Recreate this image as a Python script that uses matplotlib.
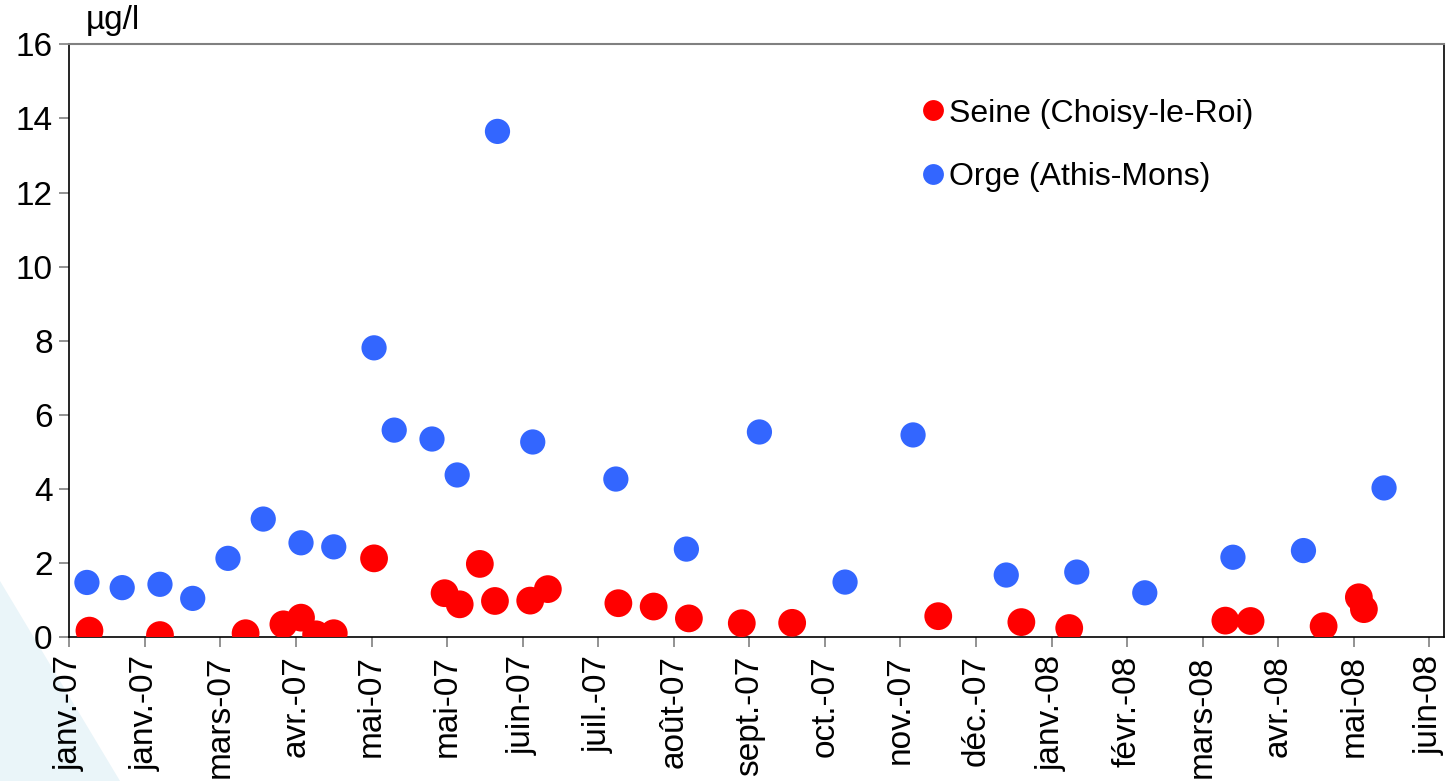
import datetime as dt

import matplotlib
matplotlib.use("Agg")
import matplotlib.pyplot as plt
import matplotlib.dates as mdates
from matplotlib.patches import Polygon
from matplotlib.lines import Line2D

plt.rcParams['font.family'] = ['Liberation Sans', 'DejaVu Sans']

# Seine (Choisy-le-Roi)
seine_dates = ['2007-01-09', '2007-02-06', '2007-03-12', '2007-03-27', '2007-04-03',
               '2007-04-09', '2007-04-16', '2007-05-02', '2007-05-30', '2007-06-05',
               '2007-06-13', '2007-06-19', '2007-07-03', '2007-07-10', '2007-08-07',
               '2007-08-21', '2007-09-04', '2007-09-25', '2007-10-15', '2007-12-12',
               '2008-01-14', '2008-02-02', '2008-04-04', '2008-04-14', '2008-05-13',
               '2008-05-27', '2008-05-29']
seine_values = [0.18, 0.06, 0.11, 0.35, 0.53, 0.08, 0.11, 2.13, 1.19, 0.89,
                1.98, 0.98, 0.99, 1.30, 0.92, 0.83, 0.51, 0.38, 0.39, 0.57,
                0.41, 0.25, 0.45, 0.44, 0.30, 1.08, 0.76]

# Orge (Athis-Mons)
orge_dates = ['2007-01-08', '2007-01-22', '2007-02-06', '2007-02-19', '2007-03-05',
              '2007-03-19', '2007-04-03', '2007-04-16', '2007-05-02', '2007-05-10',
              '2007-05-25', '2007-06-04', '2007-06-20', '2007-07-04', '2007-08-06',
              '2007-09-03', '2007-10-02', '2007-11-05', '2007-12-02', '2008-01-08',
              '2008-02-05', '2008-03-03', '2008-04-07', '2008-05-05', '2008-06-06']
orge_values = [1.48, 1.34, 1.43, 1.05, 2.13, 3.19, 2.55, 2.44, 7.81, 5.59,
               5.35, 4.38, 13.65, 5.27, 4.27, 2.38, 5.54, 1.49, 5.46, 1.68,
               1.76, 1.20, 2.16, 2.34, 4.03]

# Excel-style date axis: one tick every 30 days from 1 Jan 2007
tick_labels = ['janv.-07', 'janv.-07', 'mars-07', 'avr.-07', 'mai-07', 'mai-07',
               'juin-07', 'juil.-07', 'août-07', 'sept.-07', 'oct.-07', 'nov.-07',
               'déc.-07', 'janv.-08', 'févr.-08', 'mars-08', 'avr.-08', 'mai-08',
               'juin-08']

start = dt.datetime(2007, 1, 1)
tick_pos = [mdates.date2num(start + dt.timedelta(days=30 * i)) for i in range(len(tick_labels))]
x_seine = [mdates.date2num(dt.datetime.strptime(d, '%Y-%m-%d')) for d in seine_dates]
x_orge = [mdates.date2num(dt.datetime.strptime(d, '%Y-%m-%d')) for d in orge_dates]

W, H = 1448, 781
fig = plt.figure(figsize=(W / 100, H / 100), dpi=100)
fig.patch.set_facecolor('white')

# light decorative swoosh bottom-left
swoosh = Polygon([(0, 0), (0, 200 / H), (120 / W, 0)], closed=True,
                 transform=fig.transFigure, facecolor='#eaf5f9', edgecolor='none', zorder=-1)
fig.patches.append(swoosh)

ax = fig.add_axes([69.3 / W, (H - 637.3) / H, (1444 - 69.3) / W, (637.3 - 44.3) / H])
ax.set_facecolor('none')
ax.set_zorder(2)

red = '#ff0000'
blue = '#3366ff'
ax.scatter(x_orge, orge_values, s=330, color=blue, edgecolors='none', zorder=3)
ax.scatter(x_seine, seine_values, s=400, color=red, edgecolors='none', zorder=4)

ax.set_ylim(0, 16)
ax.set_yticks(range(0, 17, 2))
ax.set_xlim(tick_pos[0], mdates.date2num(start + dt.timedelta(days=545.8)))
ax.set_xticks(tick_pos)
ax.set_xticklabels(tick_labels, rotation=90)
ax.tick_params(axis='both', direction='out', length=7, width=1.2, color='#808080',
               labelsize=24, labelcolor='black')
ax.tick_params(axis='x', pad=6)
ax.tick_params(axis='y', pad=5)

for side in ['left', 'bottom', 'right']:
    ax.spines[side].set_color('black')
    ax.spines[side].set_linewidth(1.2)
ax.spines['top'].set_color('#808080')
ax.spines['top'].set_linewidth(1.5)

fig.text(86 / W, 1 - 20 / H, 'µg/l', fontsize=24, ha='left', va='center')

handles = [Line2D([], [], marker='o', linestyle='none', markersize=15,
                  markerfacecolor=red, markeredgecolor='none'),
           Line2D([], [], marker='o', linestyle='none', markersize=15,
                  markerfacecolor=blue, markeredgecolor='none')]
ax.legend(handles, ['Seine (Choisy-le-Roi)', 'Orge (Athis-Mons)'],
          loc='upper left', bbox_to_anchor=(0.610, 0.93), frameon=False,
          fontsize=23, handletextpad=0.1, handlelength=0.8, labelspacing=1.05,
          borderaxespad=0)

fig.savefig('out.png', dpi=100)
